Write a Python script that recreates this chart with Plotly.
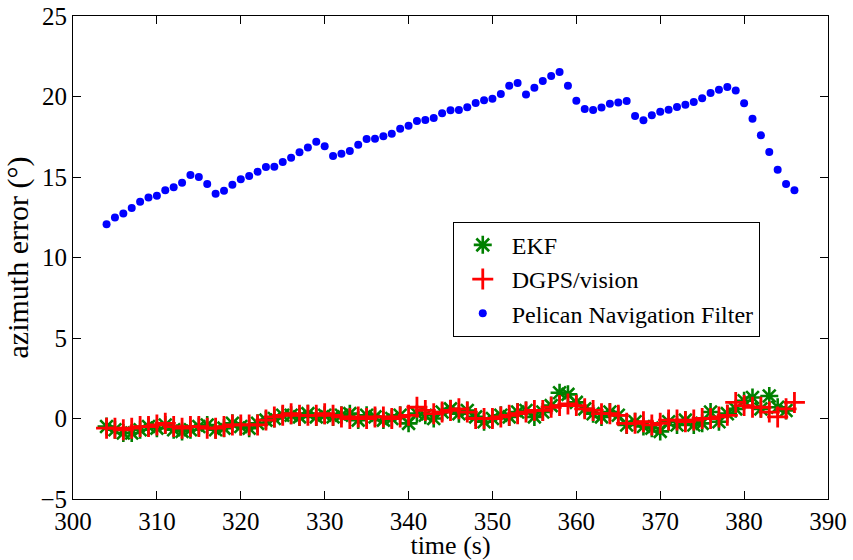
import plotly.graph_objects as go

# time stamps (s)
t = list(range(304, 387))

# Pelican Navigation Filter azimuth error (deg)
pelican = [12.06, 12.49, 12.74, 13.07, 13.47, 13.72, 13.84, 14.17, 14.36, 14.65,
           15.12, 15.00, 14.57, 13.96, 14.15, 14.52, 14.86, 15.06, 15.33, 15.62,
           15.64, 15.93, 16.20, 16.53, 16.84, 17.19, 16.91, 16.30, 16.45, 16.61,
           17.01, 17.36, 17.38, 17.53, 17.69, 18.00, 18.19, 18.48, 18.54, 18.66,
           18.96, 19.14, 19.16, 19.33, 19.60, 19.76, 19.86, 20.16, 20.67, 20.84,
           20.13, 20.55, 20.96, 21.27, 21.52, 20.67, 19.74, 19.22, 19.16, 19.31,
           19.55, 19.62, 19.72, 18.79, 18.52, 18.83, 19.06, 19.18, 19.35, 19.49,
           19.66, 19.89, 20.22, 20.42, 20.59, 20.38, 19.58, 18.62, 17.59, 16.55,
           15.45, 14.57, 14.17]

# EKF azimuth error (deg)
ekf = [-0.5, -0.7, -0.9, -0.9, -0.7, -0.5, -0.6, -0.4, -0.7, -0.8,
       -0.7, -0.5, -0.4, -0.7, -0.6, -0.3, -0.5, -0.6, -0.3, -0.1,
       0.0, 0.2, 0.2, 0.1, 0.3, 0.1, 0.2, 0.1, 0.2, 0.3,
       -0.1, 0.2, 0.1, -0.1, 0.0, 0.2, -0.3, 0.3, 0.2, 0.0,
       0.4, 0.6, 0.3, 0.5, 0.1, -0.2, 0.0, 0.2, 0.1, 0.4,
       0.5, 0.1, 0.4, 0.8, 1.6, 1.5, 1.0, 0.6, 0.3, 0.1,
       0.4, 0.2, -0.4, -0.2, -0.5, -0.6, -0.8, -0.2, -0.4, -0.1,
       -0.4, -0.3, 0.4, -0.2, 0.3, 0.6, 1.1, 1.3, 0.6, 1.4,
       0.7, 0.5]
t_ekf = t[:len(ekf)]

# DGPS/vision azimuth error (deg)
dgps = [-0.6, -0.6, -0.7, -0.6, -0.5, -0.5, -0.4, -0.3, -0.5, -0.6,
        -0.5, -0.5, -0.6, -0.6, -0.5, -0.4, -0.4, -0.4, -0.4, -0.1,
        0.1, 0.2, 0.3, 0.2, 0.2, 0.2, 0.3, 0.2, 0.1, 0.0,
        0.1, 0.0, 0.1, 0.1, 0.0, 0.1, 0.2, 0.7, 0.5, 0.3,
        0.4, 0.5, 0.6, 0.4, 0.0, 0.0, 0.0, 0.1, 0.2, 0.3,
        0.4, 0.5, 0.5, 0.7, 0.8, 0.9, 0.8, 0.6, 0.5, 0.3,
        0.3, 0.2, -0.3, -0.3, -0.2, -0.4, -0.3, -0.1, -0.1, -0.2,
        -0.1, 0.0, 0.0, 0.1, 0.2, 1.0, 0.8, 0.7, 0.7, 0.4,
        0.1, 0.6, 1.0]

x_ticks = list(range(300, 391, 10))
y_ticks = list(range(-5, 26, 5))
y_tick_text = ["\u22125" if v < 0 else str(v) for v in y_ticks]

font_family = "Liberation Serif"

fig = go.Figure()
fig.add_trace(go.Scatter(
    x=t_ekf, y=ekf, mode="markers", name="EKF",
    marker=dict(symbol="asterisk-open", size=15, color="#008000",
                line=dict(color="#008000", width=2.6)),
))
fig.add_trace(go.Scatter(
    x=t, y=dgps, mode="markers", name="DGPS/vision",
    marker=dict(symbol="cross-thin-open", size=15, color="#ff0000",
                line=dict(color="#ff0000", width=2.8)),
))
fig.add_trace(go.Scatter(
    x=t, y=pelican, mode="markers", name="Pelican Navigation Filter",
    marker=dict(symbol="circle", size=8, color="#0000ff", line=dict(width=0)),
))

axis_common = dict(
    showgrid=False, zeroline=False, showline=True, linecolor="black",
    linewidth=1, mirror="ticks", ticks="inside", ticklen=8,
    tickcolor="black", automargin=False,
    tickfont=dict(family=font_family, size=25, color="black"),
)

fig.update_layout(
    width=853, height=560,
    margin=dict(l=73, r=25, t=16, b=61),
    paper_bgcolor="white", plot_bgcolor="white",
    font=dict(family=font_family, color="black"),
    xaxis=dict(range=[300, 390], tickvals=x_ticks,
               title=dict(text="time (s)", font=dict(size=26), standoff=0),
               **axis_common),
    yaxis=dict(range=[-5, 25], tickvals=y_ticks, ticktext=y_tick_text,
               title=dict(text="azimuth error (\u00b0)", font=dict(size=30), standoff=2),
               **axis_common),
    legend=dict(x=0.503, y=0.574, xanchor="left", yanchor="top",
                bordercolor="black", borderwidth=1, bgcolor="white",
                font=dict(family=font_family, size=24, color="black"),
                tracegroupgap=0, itemwidth=48),
    showlegend=True,
)

fig.write_html("out.html")
